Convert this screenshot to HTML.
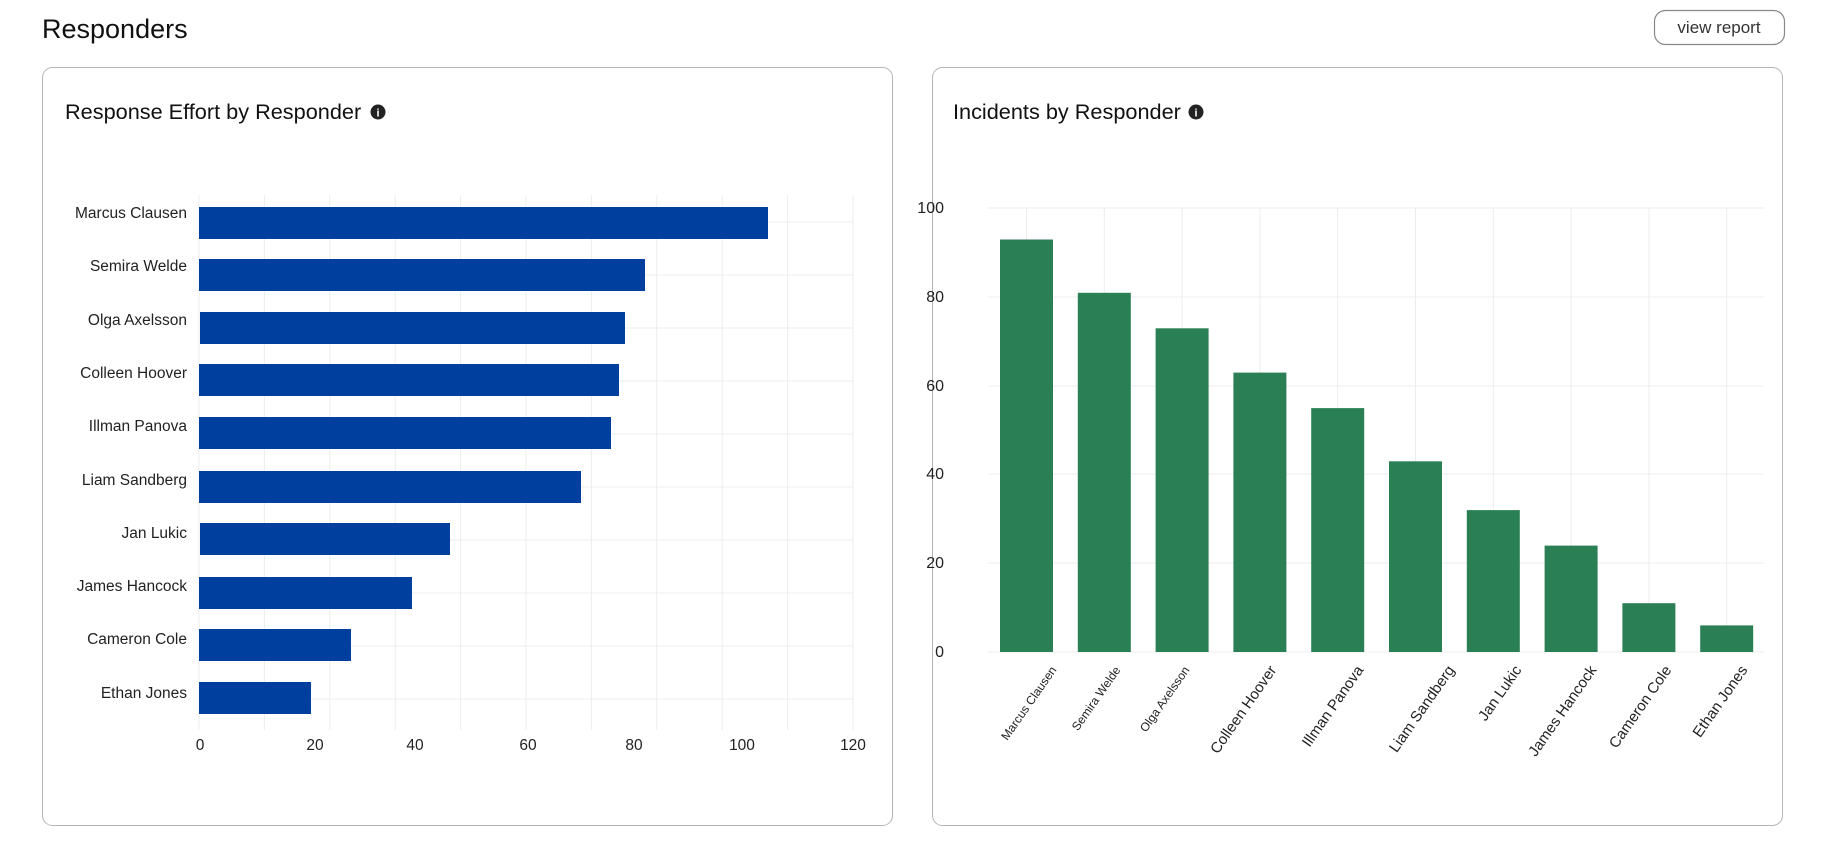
<!DOCTYPE html>
<html><head><meta charset="utf-8"><style>
body{margin:0;width:1822px;height:862px;background:#fff;font-family:"Liberation Sans",sans-serif;overflow:hidden}
</style></head><body>
<svg width="1822" height="862" xmlns="http://www.w3.org/2000/svg" font-family="Liberation Sans, sans-serif">
<text x="42" y="38" font-size="27" fill="#111">Responders</text>
<rect x="1654.5" y="10.5" width="130" height="34" rx="11" fill="#fff" stroke="#888" stroke-width="1.2"/>
<text x="1719" y="33" font-size="17" fill="#333" text-anchor="middle">view report</text>
<rect x="42.5" y="67.5" width="850" height="758" rx="10" fill="#fff" stroke="#b5b5b5"/>
<rect x="932.5" y="67.5" width="850" height="758" rx="10" fill="#fff" stroke="#b5b5b5"/>
<text x="65" y="119" font-size="21.7" fill="#111">Response Effort by Responder</text>
<circle cx="378" cy="112" r="7.5" fill="#222"/><text x="378" y="116.5" font-size="11" font-weight="bold" fill="#fff" text-anchor="middle">i</text>
<text x="953" y="119" font-size="21.7" fill="#111">Incidents by Responder</text>
<circle cx="1196" cy="112" r="7.5" fill="#222"/><text x="1196" y="116.5" font-size="11" font-weight="bold" fill="#fff" text-anchor="middle">i</text>
<g stroke="#ececec" stroke-width="1">
<line x1="199" y1="195" x2="199" y2="730"/><line x1="264.4" y1="195" x2="264.4" y2="730"/><line x1="329.8" y1="195" x2="329.8" y2="730"/><line x1="395.2" y1="195" x2="395.2" y2="730"/><line x1="460.6" y1="195" x2="460.6" y2="730"/><line x1="526" y1="195" x2="526" y2="730"/><line x1="591.4" y1="195" x2="591.4" y2="730"/><line x1="656.8" y1="195" x2="656.8" y2="730"/><line x1="722.2" y1="195" x2="722.2" y2="730"/><line x1="787.6" y1="195" x2="787.6" y2="730"/><line x1="853" y1="195" x2="853" y2="730"/>
<line x1="199" y1="222" x2="853" y2="222"/><line x1="199" y1="275" x2="853" y2="275"/><line x1="199" y1="328" x2="853" y2="328"/><line x1="199" y1="381" x2="853" y2="381"/><line x1="199" y1="434" x2="853" y2="434"/><line x1="199" y1="487" x2="853" y2="487"/><line x1="199" y1="540" x2="853" y2="540"/><line x1="199" y1="593" x2="853" y2="593"/><line x1="199" y1="646" x2="853" y2="646"/><line x1="199" y1="699" x2="853" y2="699"/>
</g>
<g fill="#003f9e">
<rect x="199" y="207" width="569" height="32"/>
<rect x="199" y="259" width="446" height="32"/>
<rect x="200" y="312" width="425" height="32"/>
<rect x="199" y="364" width="420" height="32"/>
<rect x="199" y="417" width="412" height="32"/>
<rect x="199" y="471" width="382" height="32"/>
<rect x="200" y="523" width="250" height="32"/>
<rect x="199" y="577" width="213" height="32"/>
<rect x="199" y="629" width="152" height="32"/>
<rect x="199" y="682" width="112" height="32"/>
</g>
<g font-size="15.5" fill="#222" text-anchor="end">
<text x="187" y="218">Marcus Clausen</text>
<text x="187" y="271">Semira Welde</text>
<text x="187" y="325">Olga Axelsson</text>
<text x="187" y="378">Colleen Hoover</text>
<text x="187" y="431">Illman Panova</text>
<text x="187" y="485">Liam Sandberg</text>
<text x="187" y="538">Jan Lukic</text>
<text x="187" y="591">James Hancock</text>
<text x="187" y="644">Cameron Cole</text>
<text x="187" y="698">Ethan Jones</text>
</g>
<g font-size="15.5" fill="#222" text-anchor="middle">
<text x="200" y="750">0</text><text x="315" y="750">20</text><text x="415" y="750">40</text><text x="528" y="750">60</text><text x="634" y="750">80</text><text x="742" y="750">100</text><text x="853" y="750">120</text>
</g>
<g stroke="#ececec" stroke-width="1">
<line x1="988" y1="208" x2="1764" y2="208"/><line x1="988" y1="297" x2="1764" y2="297"/><line x1="988" y1="386" x2="1764" y2="386"/><line x1="988" y1="474" x2="1764" y2="474"/><line x1="988" y1="563" x2="1764" y2="563"/><line x1="988" y1="652" x2="1764" y2="652"/>
<line x1="1026.5" y1="208" x2="1026.5" y2="652"/><line x1="1104.3" y1="208" x2="1104.3" y2="652"/><line x1="1182.1" y1="208" x2="1182.1" y2="652"/><line x1="1259.9" y1="208" x2="1259.9" y2="652"/><line x1="1337.7" y1="208" x2="1337.7" y2="652"/><line x1="1415.5" y1="208" x2="1415.5" y2="652"/><line x1="1493.3" y1="208" x2="1493.3" y2="652"/><line x1="1571.1" y1="208" x2="1571.1" y2="652"/><line x1="1648.9" y1="208" x2="1648.9" y2="652"/><line x1="1726.7" y1="208" x2="1726.7" y2="652"/>
</g>
<g fill="#2b7f55">
<rect x="1000" y="239.5" width="53" height="412.5"/>
<rect x="1077.8" y="292.8" width="53" height="359.2"/>
<rect x="1155.6" y="328.3" width="53" height="323.7"/>
<rect x="1233.4" y="372.6" width="53" height="279.4"/>
<rect x="1311.2" y="408.1" width="53" height="243.9"/>
<rect x="1389" y="461.3" width="53" height="190.7"/>
<rect x="1466.8" y="510.1" width="53" height="141.9"/>
<rect x="1544.6" y="545.6" width="53" height="106.4"/>
<rect x="1622.4" y="603.2" width="53" height="48.8"/>
<rect x="1700.2" y="625.4" width="53" height="26.6"/>
</g>
<g font-size="16" fill="#222" text-anchor="end">
<text x="944" y="213">100</text><text x="944" y="302">80</text><text x="944" y="391">60</text><text x="944" y="479">40</text><text x="944" y="568">20</text><text x="944" y="657">0</text>
</g>
<g fill="#222" text-anchor="end">
<text font-size="12" transform="translate(1057,670) rotate(-55)">Marcus Clausen</text>
<text font-size="12" transform="translate(1121,670) rotate(-55)">Semira Welde</text>
<text font-size="12" transform="translate(1190,670) rotate(-55)">Olga Axelsson</text>
<text font-size="15" transform="translate(1277,670) rotate(-55)">Colleen Hoover</text>
<text font-size="15" transform="translate(1364,670) rotate(-55)">Illman Panova</text>
<text font-size="15" transform="translate(1455,670) rotate(-55)">Liam Sandberg</text>
<text font-size="15" transform="translate(1522,670) rotate(-55)">Jan Lukic</text>
<text font-size="15" transform="translate(1597,670) rotate(-55)">James Hancock</text>
<text font-size="15" transform="translate(1672,670) rotate(-55)">Cameron Cole</text>
<text font-size="15" transform="translate(1748,670) rotate(-55)">Ethan Jones</text>
</g>
</svg>
</body></html>
